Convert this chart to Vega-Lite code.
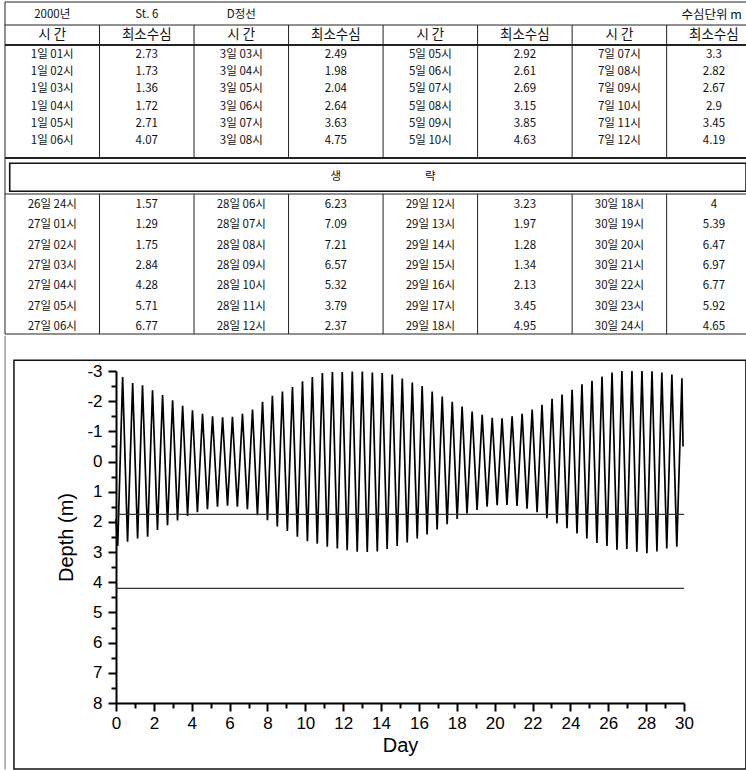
{
  "$schema": "https://vega.github.io/schema/vega-lite/v6.json",
  "padding": {"left": 3, "top": 1, "right": 0, "bottom": 0},
  "spacing": 0,
  "align": "none",
  "config": {"view": {"stroke": null}, "font": "Liberation Sans", "axis": {"labelOverlap": false}},
  "datasets": {
    "tableLines": [
      {"x": -0.5, "x2": 7.35, "y": -0.5, "y2": -0.5, "kind": "thin"},
      {"x": -0.5, "x2": 7.35, "y": 0.5, "y2": 0.5, "kind": "thin"},
      {"x": -0.5, "x2": 7.35, "y": 1.5, "y2": 1.5, "kind": "thick"},
      {"x": -0.5, "x2": 7.35, "y": 7.5, "y2": 7.5, "kind": "thick"},
      {"x": -0.5, "x2": 7.35, "y": 8.5, "y2": 8.5, "kind": "thin"},
      {"x": -0.5, "x2": 7.35, "y": 15.5, "y2": 15.5, "kind": "thin"},
      {"x": -0.5, "x2": -0.5, "y": -0.5, "y2": 15.5, "kind": "thin"},
      {"x": 0.5, "x2": 0.5, "y": 0.5, "y2": 7.5, "kind": "thin"},
      {"x": 1.5, "x2": 1.5, "y": 0.5, "y2": 7.5, "kind": "thin"},
      {"x": 2.5, "x2": 2.5, "y": 0.5, "y2": 7.5, "kind": "thin"},
      {"x": 3.5, "x2": 3.5, "y": 0.5, "y2": 7.5, "kind": "thin"},
      {"x": 4.5, "x2": 4.5, "y": 0.5, "y2": 7.5, "kind": "thin"},
      {"x": 5.5, "x2": 5.5, "y": 0.5, "y2": 7.5, "kind": "thin"},
      {"x": 6.5, "x2": 6.5, "y": 0.5, "y2": 7.5, "kind": "thin"},
      {"x": 0.5, "x2": 0.5, "y": 8.5, "y2": 15.5, "kind": "thin"},
      {"x": 1.5, "x2": 1.5, "y": 8.5, "y2": 15.5, "kind": "thin"},
      {"x": 2.5, "x2": 2.5, "y": 8.5, "y2": 15.5, "kind": "thin"},
      {"x": 3.5, "x2": 3.5, "y": 8.5, "y2": 15.5, "kind": "thin"},
      {"x": 4.5, "x2": 4.5, "y": 8.5, "y2": 15.5, "kind": "thin"},
      {"x": 5.5, "x2": 5.5, "y": 8.5, "y2": 15.5, "kind": "thin"},
      {"x": 6.5, "x2": 6.5, "y": 8.5, "y2": 15.5, "kind": "thin"}
    ],
    "band": [{"x": -0.45, "x2": 7.34, "y": 7.64, "y2": 8.42}],
    "tableText": [
      {"c": 0, "r": 0, "t": "2000년", "k": "title"},
      {"c": 1, "r": 0, "t": "St. 6", "k": "title"},
      {"c": 2, "r": 0, "t": "D정선", "k": "title"},
      {"c": 7, "r": 0, "t": "수심단위 m", "k": "unit"},
      {"c": 0, "r": 1, "t": "시 간", "k": "head"},
      {"c": 1, "r": 1, "t": "최소수심", "k": "head"},
      {"c": 2, "r": 1, "t": "시 간", "k": "head"},
      {"c": 3, "r": 1, "t": "최소수심", "k": "head"},
      {"c": 4, "r": 1, "t": "시 간", "k": "head"},
      {"c": 5, "r": 1, "t": "최소수심", "k": "head"},
      {"c": 6, "r": 1, "t": "시 간", "k": "head"},
      {"c": 7, "r": 1, "t": "최소수심", "k": "head"},
      {"c": 3, "r": 8, "t": "생", "k": "band"},
      {"c": 4, "r": 8, "t": "략", "k": "band"},
      {"c": 0, "r": 2, "t": "1일  01시", "k": "cell"},
      {"c": 0, "r": 3, "t": "1일  02시", "k": "cell"},
      {"c": 0, "r": 4, "t": "1일  03시", "k": "cell"},
      {"c": 0, "r": 5, "t": "1일  04시", "k": "cell"},
      {"c": 0, "r": 6, "t": "1일  05시", "k": "cell"},
      {"c": 0, "r": 7, "t": "1일  06시", "k": "cell"},
      {"c": 1, "r": 2, "t": "2.73", "k": "cell"},
      {"c": 1, "r": 3, "t": "1.73", "k": "cell"},
      {"c": 1, "r": 4, "t": "1.36", "k": "cell"},
      {"c": 1, "r": 5, "t": "1.72", "k": "cell"},
      {"c": 1, "r": 6, "t": "2.71", "k": "cell"},
      {"c": 1, "r": 7, "t": "4.07", "k": "cell"},
      {"c": 2, "r": 2, "t": "3일  03시", "k": "cell"},
      {"c": 2, "r": 3, "t": "3일  04시", "k": "cell"},
      {"c": 2, "r": 4, "t": "3일  05시", "k": "cell"},
      {"c": 2, "r": 5, "t": "3일  06시", "k": "cell"},
      {"c": 2, "r": 6, "t": "3일  07시", "k": "cell"},
      {"c": 2, "r": 7, "t": "3일  08시", "k": "cell"},
      {"c": 3, "r": 2, "t": "2.49", "k": "cell"},
      {"c": 3, "r": 3, "t": "1.98", "k": "cell"},
      {"c": 3, "r": 4, "t": "2.04", "k": "cell"},
      {"c": 3, "r": 5, "t": "2.64", "k": "cell"},
      {"c": 3, "r": 6, "t": "3.63", "k": "cell"},
      {"c": 3, "r": 7, "t": "4.75", "k": "cell"},
      {"c": 4, "r": 2, "t": "5일  05시", "k": "cell"},
      {"c": 4, "r": 3, "t": "5일  06시", "k": "cell"},
      {"c": 4, "r": 4, "t": "5일  07시", "k": "cell"},
      {"c": 4, "r": 5, "t": "5일  08시", "k": "cell"},
      {"c": 4, "r": 6, "t": "5일  09시", "k": "cell"},
      {"c": 4, "r": 7, "t": "5일  10시", "k": "cell"},
      {"c": 5, "r": 2, "t": "2.92", "k": "cell"},
      {"c": 5, "r": 3, "t": "2.61", "k": "cell"},
      {"c": 5, "r": 4, "t": "2.69", "k": "cell"},
      {"c": 5, "r": 5, "t": "3.15", "k": "cell"},
      {"c": 5, "r": 6, "t": "3.85", "k": "cell"},
      {"c": 5, "r": 7, "t": "4.63", "k": "cell"},
      {"c": 6, "r": 2, "t": "7일  07시", "k": "cell"},
      {"c": 6, "r": 3, "t": "7일  08시", "k": "cell"},
      {"c": 6, "r": 4, "t": "7일  09시", "k": "cell"},
      {"c": 6, "r": 5, "t": "7일  10시", "k": "cell"},
      {"c": 6, "r": 6, "t": "7일  11시", "k": "cell"},
      {"c": 6, "r": 7, "t": "7일  12시", "k": "cell"},
      {"c": 7, "r": 2, "t": "3.3", "k": "cell"},
      {"c": 7, "r": 3, "t": "2.82", "k": "cell"},
      {"c": 7, "r": 4, "t": "2.67", "k": "cell"},
      {"c": 7, "r": 5, "t": "2.9", "k": "cell"},
      {"c": 7, "r": 6, "t": "3.45", "k": "cell"},
      {"c": 7, "r": 7, "t": "4.19", "k": "cell"},
      {"c": 0, "r": 9, "t": "26일  24시", "k": "cell"},
      {"c": 0, "r": 10, "t": "27일  01시", "k": "cell"},
      {"c": 0, "r": 11, "t": "27일  02시", "k": "cell"},
      {"c": 0, "r": 12, "t": "27일  03시", "k": "cell"},
      {"c": 0, "r": 13, "t": "27일  04시", "k": "cell"},
      {"c": 0, "r": 14, "t": "27일  05시", "k": "cell"},
      {"c": 0, "r": 15, "t": "27일  06시", "k": "cell"},
      {"c": 1, "r": 9, "t": "1.57", "k": "cell"},
      {"c": 1, "r": 10, "t": "1.29", "k": "cell"},
      {"c": 1, "r": 11, "t": "1.75", "k": "cell"},
      {"c": 1, "r": 12, "t": "2.84", "k": "cell"},
      {"c": 1, "r": 13, "t": "4.28", "k": "cell"},
      {"c": 1, "r": 14, "t": "5.71", "k": "cell"},
      {"c": 1, "r": 15, "t": "6.77", "k": "cell"},
      {"c": 2, "r": 9, "t": "28일  06시", "k": "cell"},
      {"c": 2, "r": 10, "t": "28일  07시", "k": "cell"},
      {"c": 2, "r": 11, "t": "28일  08시", "k": "cell"},
      {"c": 2, "r": 12, "t": "28일  09시", "k": "cell"},
      {"c": 2, "r": 13, "t": "28일  10시", "k": "cell"},
      {"c": 2, "r": 14, "t": "28일  11시", "k": "cell"},
      {"c": 2, "r": 15, "t": "28일  12시", "k": "cell"},
      {"c": 3, "r": 9, "t": "6.23", "k": "cell"},
      {"c": 3, "r": 10, "t": "7.09", "k": "cell"},
      {"c": 3, "r": 11, "t": "7.21", "k": "cell"},
      {"c": 3, "r": 12, "t": "6.57", "k": "cell"},
      {"c": 3, "r": 13, "t": "5.32", "k": "cell"},
      {"c": 3, "r": 14, "t": "3.79", "k": "cell"},
      {"c": 3, "r": 15, "t": "2.37", "k": "cell"},
      {"c": 4, "r": 9, "t": "29일  12시", "k": "cell"},
      {"c": 4, "r": 10, "t": "29일  13시", "k": "cell"},
      {"c": 4, "r": 11, "t": "29일  14시", "k": "cell"},
      {"c": 4, "r": 12, "t": "29일  15시", "k": "cell"},
      {"c": 4, "r": 13, "t": "29일  16시", "k": "cell"},
      {"c": 4, "r": 14, "t": "29일  17시", "k": "cell"},
      {"c": 4, "r": 15, "t": "29일  18시", "k": "cell"},
      {"c": 5, "r": 9, "t": "3.23", "k": "cell"},
      {"c": 5, "r": 10, "t": "1.97", "k": "cell"},
      {"c": 5, "r": 11, "t": "1.28", "k": "cell"},
      {"c": 5, "r": 12, "t": "1.34", "k": "cell"},
      {"c": 5, "r": 13, "t": "2.13", "k": "cell"},
      {"c": 5, "r": 14, "t": "3.45", "k": "cell"},
      {"c": 5, "r": 15, "t": "4.95", "k": "cell"},
      {"c": 6, "r": 9, "t": "30일  18시", "k": "cell"},
      {"c": 6, "r": 10, "t": "30일  19시", "k": "cell"},
      {"c": 6, "r": 11, "t": "30일  20시", "k": "cell"},
      {"c": 6, "r": 12, "t": "30일  21시", "k": "cell"},
      {"c": 6, "r": 13, "t": "30일  22시", "k": "cell"},
      {"c": 6, "r": 14, "t": "30일  23시", "k": "cell"},
      {"c": 6, "r": 15, "t": "30일  24시", "k": "cell"},
      {"c": 7, "r": 9, "t": "4", "k": "cell"},
      {"c": 7, "r": 10, "t": "5.39", "k": "cell"},
      {"c": 7, "r": 11, "t": "6.47", "k": "cell"},
      {"c": 7, "r": 12, "t": "6.97", "k": "cell"},
      {"c": 7, "r": 13, "t": "6.77", "k": "cell"},
      {"c": 7, "r": 14, "t": "5.92", "k": "cell"},
      {"c": 7, "r": 15, "t": "4.65", "k": "cell"}
    ],
    "tide": [
      {"day": 0, "depth": 1.9}, {"day": 0.09, "depth": 2.8},
      {"day": 0.35, "depth": -2.8}, {"day": 0.61, "depth": 2.66},
      {"day": 0.88, "depth": -2.6}, {"day": 1.14, "depth": 2.55},
      {"day": 1.4, "depth": -2.53}, {"day": 1.67, "depth": 2.49},
      {"day": 1.93, "depth": -2.36}, {"day": 2.19, "depth": 2.27},
      {"day": 2.46, "depth": -2.2}, {"day": 2.72, "depth": 2.11},
      {"day": 2.99, "depth": -2.03}, {"day": 3.25, "depth": 1.95},
      {"day": 3.52, "depth": -1.85}, {"day": 3.78, "depth": 1.8},
      {"day": 4.04, "depth": -1.7}, {"day": 4.3, "depth": 1.68},
      {"day": 4.57, "depth": -1.58}, {"day": 4.83, "depth": 1.58},
      {"day": 5.1, "depth": -1.5}, {"day": 5.36, "depth": 1.5},
      {"day": 5.63, "depth": -1.47}, {"day": 5.89, "depth": 1.46},
      {"day": 6.15, "depth": -1.48}, {"day": 6.41, "depth": 1.5},
      {"day": 6.68, "depth": -1.58}, {"day": 6.94, "depth": 1.58},
      {"day": 7.21, "depth": -1.72}, {"day": 7.47, "depth": 1.78},
      {"day": 7.74, "depth": -1.98}, {"day": 8.0, "depth": 1.94},
      {"day": 8.26, "depth": -2.18}, {"day": 8.52, "depth": 2.15},
      {"day": 8.79, "depth": -2.32}, {"day": 9.05, "depth": 2.3},
      {"day": 9.32, "depth": -2.47}, {"day": 9.58, "depth": 2.49},
      {"day": 9.85, "depth": -2.66}, {"day": 10.11, "depth": 2.64},
      {"day": 10.37, "depth": -2.8}, {"day": 10.63, "depth": 2.72},
      {"day": 10.9, "depth": -2.93}, {"day": 11.16, "depth": 2.82},
      {"day": 11.43, "depth": -2.97}, {"day": 11.69, "depth": 2.88},
      {"day": 11.95, "depth": -2.97}, {"day": 12.21, "depth": 2.94},
      {"day": 12.48, "depth": -2.98}, {"day": 12.74, "depth": 2.99},
      {"day": 13.01, "depth": -2.98}, {"day": 13.27, "depth": 3.0},
      {"day": 13.54, "depth": -2.95}, {"day": 13.8, "depth": 2.98},
      {"day": 14.06, "depth": -2.93}, {"day": 14.32, "depth": 2.9},
      {"day": 14.59, "depth": -2.88}, {"day": 14.85, "depth": 2.8},
      {"day": 15.12, "depth": -2.75}, {"day": 15.38, "depth": 2.68},
      {"day": 15.65, "depth": -2.62}, {"day": 15.91, "depth": 2.55},
      {"day": 16.17, "depth": -2.5}, {"day": 16.43, "depth": 2.42},
      {"day": 16.7, "depth": -2.32}, {"day": 16.96, "depth": 2.25},
      {"day": 17.23, "depth": -2.15}, {"day": 17.49, "depth": 2.08},
      {"day": 17.76, "depth": -1.98}, {"day": 18.02, "depth": 1.9},
      {"day": 18.28, "depth": -1.82}, {"day": 18.54, "depth": 1.72},
      {"day": 18.81, "depth": -1.66}, {"day": 19.07, "depth": 1.6},
      {"day": 19.34, "depth": -1.55}, {"day": 19.6, "depth": 1.5},
      {"day": 19.87, "depth": -1.45}, {"day": 20.13, "depth": 1.45},
      {"day": 20.39, "depth": -1.43}, {"day": 20.65, "depth": 1.44},
      {"day": 20.92, "depth": -1.5}, {"day": 21.18, "depth": 1.47},
      {"day": 21.45, "depth": -1.58}, {"day": 21.71, "depth": 1.56},
      {"day": 21.98, "depth": -1.72}, {"day": 22.24, "depth": 1.68},
      {"day": 22.5, "depth": -1.88}, {"day": 22.76, "depth": 1.88},
      {"day": 23.03, "depth": -2.08}, {"day": 23.29, "depth": 2.05},
      {"day": 23.56, "depth": -2.22}, {"day": 23.82, "depth": 2.21},
      {"day": 24.09, "depth": -2.38}, {"day": 24.35, "depth": 2.38},
      {"day": 24.61, "depth": -2.56}, {"day": 24.87, "depth": 2.55},
      {"day": 25.14, "depth": -2.68}, {"day": 25.4, "depth": 2.7},
      {"day": 25.67, "depth": -2.82}, {"day": 25.93, "depth": 2.8},
      {"day": 26.2, "depth": -2.95}, {"day": 26.46, "depth": 2.92},
      {"day": 26.72, "depth": -3.0}, {"day": 26.98, "depth": 2.9},
      {"day": 27.25, "depth": -3.0}, {"day": 27.51, "depth": 2.99},
      {"day": 27.78, "depth": -3.0}, {"day": 28.04, "depth": 3.04},
      {"day": 28.31, "depth": -2.99}, {"day": 28.57, "depth": 2.98},
      {"day": 28.83, "depth": -2.95}, {"day": 29.09, "depth": 2.88},
      {"day": 29.36, "depth": -2.88}, {"day": 29.62, "depth": 2.82},
      {"day": 29.89, "depth": -2.76}, {"day": 29.95, "depth": -0.5}
    ]
  },
  "vconcat": [
    {
      "width": 631,
      "height": 332,
      "layer": [
        {
          "data": {"name": "tableLines"},
          "mark": {"type": "rule", "color": "#222"},
          "encoding": {
            "x": {"field": "x", "type": "quantitative", "scale": {"domain": [0.6744, 7.35], "nice": false, "zero": false}, "axis": null},
            "x2": {"field": "x2"},
            "y": {"field": "y", "type": "quantitative", "scale": {"domain": [-0.5, 0, 0.5, 1, 1.5, 2, 7, 7.5, 8, 8.5, 9, 15, 15.5], "range": [0, 13, 23, 33, 43, 53, 139, 156, 175, 192, 203, 325, 332], "nice": false, "zero": false}, "axis": null},
            "y2": {"field": "y2"},
            "strokeWidth": {"field": "kind", "type": "nominal", "scale": {"domain": ["thin", "thick"], "range": [1, 2.2]}, "legend": null}
          }
        },
        {
          "data": {"name": "band"},
          "mark": {"type": "rect", "filled": false, "stroke": "#111", "strokeWidth": 1.6},
          "encoding": {
            "x": {"field": "x", "type": "quantitative"},
            "x2": {"field": "x2"},
            "y": {"field": "y", "type": "quantitative"},
            "y2": {"field": "y2"}
          }
        },
        {
          "data": {"name": "tableText"},
          "transform": [{"filter": "datum.k === 'head'"}],
          "mark": {"type": "text", "font": "Noto Sans CJK KR", "fontSize": 13.5, "color": "#111", "baseline": "middle"},
          "encoding": {
            "x": {"field": "c", "type": "quantitative"},
            "y": {"field": "r", "type": "quantitative"},
            "text": {"field": "t"}
          }
        },
        {
          "data": {"name": "tableText"},
          "transform": [{"filter": "datum.k === 'unit'"}],
          "mark": {"type": "text", "font": "Noto Sans CJK KR", "fontSize": 12.5, "color": "#111", "baseline": "middle", "align": "right", "dx": 28},
          "encoding": {
            "x": {"field": "c", "type": "quantitative"},
            "y": {"field": "r", "type": "quantitative"},
            "text": {"field": "t"}
          }
        },
        {
          "data": {"name": "tableText"},
          "transform": [{"filter": "datum.k !== 'head' && datum.k !== 'unit'"}],
          "mark": {"type": "text", "font": "Noto Sans CJK KR", "fontSize": 11.5, "color": "#111", "baseline": "middle"},
          "encoding": {
            "x": {"field": "c", "type": "quantitative"},
            "y": {"field": "r", "type": "quantitative"},
            "text": {"field": "t"}
          }
        }
      ]
    },
    {
      "width": 568,
      "height": 332,
      "layer": [
        {
          "data": {"name": "tide"},
          "mark": {"type": "line", "color": "black", "strokeWidth": 1.7},
          "encoding": {
            "x": {
              "field": "day", "type": "quantitative",
              "scale": {"domain": [0, 30], "nice": false, "zero": false},
              "axis": {
                "title": "Day",
                "values": [0,1,2,3,4,5,6,7,8,9,10,11,12,13,14,15,16,17,18,19,20,21,22,23,24,25,26,27,28,29,30],
                "tickCount": 200,
                "labelExpr": "datum.value % 2 === 0 ? '' + datum.value : ''",
                "tickSize": {"condition": {"test": "datum.value % 2 === 0", "value": 8}, "value": 5},
                "labelFont": "Liberation Sans Narrow, Liberation Sans",
                "labelFontSize": 17, "labelColor": "black", "labelPadding": 4,
                "labelOverlap": false, "labelFlush": false,
                "titleFont": "Liberation Sans", "titleFontSize": 20, "titleFontWeight": "normal", "titleColor": "black", "titlePadding": 4,
                "domainColor": "black", "domainWidth": 2, "tickColor": "black", "tickWidth": 2, "grid": false
              }
            },
            "y": {
              "field": "depth", "type": "quantitative",
              "scale": {"domain": [-3, 8], "reverse": true, "nice": false, "zero": false},
              "axis": {
                "title": "Depth (m)",
                "values": [-3,-2.5,-2,-1.5,-1,-0.5,0,0.5,1,1.5,2,2.5,3,3.5,4,4.5,5,5.5,6,6.5,7,7.5,8],
                "tickCount": 200,
                "labelExpr": "datum.value % 1 === 0 ? '' + datum.value : ''",
                "tickSize": {"condition": {"test": "datum.value % 1 === 0", "value": 8}, "value": 5},
                "labelFont": "Liberation Sans Narrow, Liberation Sans",
                "labelFontSize": 17, "labelColor": "black", "labelPadding": 6,
                "labelOverlap": false, "labelFlush": false,
                "titleFont": "Liberation Sans", "titleFontSize": 20, "titleFontWeight": "normal", "titleColor": "black", "titlePadding": 10,
                "domainColor": "black", "domainWidth": 2, "tickColor": "black", "tickWidth": 2, "grid": false
              }
            }
          }
        },
        {
          "data": {"values": [{"depth": 1.75}, {"depth": 4.2}]},
          "mark": {"type": "rule", "color": "#333", "strokeWidth": 1.2},
          "encoding": {
            "y": {"field": "depth", "type": "quantitative"},
            "x": {"datum": 0},
            "x2": {"datum": 30}
          }
        },
        {
          "data": {"values": [{}]},
          "mark": {"type": "rect", "filled": false, "stroke": "#111", "strokeWidth": 1.5},
          "encoding": {
            "x": {"datum": -5.39},
            "x2": {"datum": 33.27},
            "y": {"datum": -3.36},
            "y2": {"datum": 10.19}
          }
        },
        {
          "data": {"values": [{}]},
          "mark": {"type": "rule", "color": "#666", "strokeWidth": 1},
          "encoding": {
            "x": {"datum": -5.86},
            "y": {"datum": -4.16},
            "y2": {"datum": 10.2}
          }
        }
      ]
    }
  ]
}
